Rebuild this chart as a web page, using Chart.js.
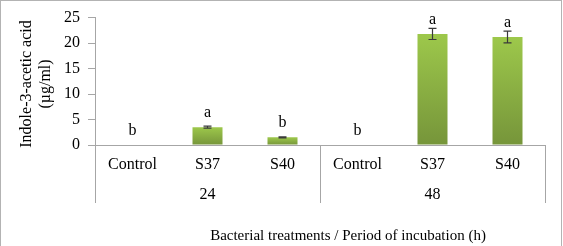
<!DOCTYPE html>
<html>
<head>
<meta charset="utf-8">
<script src="https://cdn.jsdelivr.net/npm/chart.js@4"></script>
<style>
  html, body { margin: 0; padding: 0; background: #fff; }
  #wrap { width: 563px; height: 246px; position: relative; }
</style>
</head>
<body>
<div id="wrap"><canvas id="chart" width="563" height="246"></canvas></div>
<script>
/* datos */
const categories = ["Control", "S37", "S40", "Control", "S37", "S40"];
const periods = ["24", "48"];
const iaa = [0, 3.5, 1.5, 0, 21.8, 21.2];
const iaaErr = [0, 0.2, 0.1, 0, 1.1, 1.15];
const letters = ["b", "a", "b", "b", "a", "a"];
const yTicks = [0, 5, 10, 15, 20, 25];

const FONT = "'Liberation Serif', 'Times New Roman', serif";
const AXIS_GRAY = "#a6a6a6";

/* gradiente por barra */
function barGradient(ctx) {
    const chart = ctx.chart;
    const ys = chart.scales.y;
    if (!ys || ctx.raw == null) return "#8db446";
    const top = ys.getPixelForValue(ctx.raw);
    const base = ys.getPixelForValue(0);
    if (!isFinite(top) || base - top < 1) return "#8db446";
    const g = chart.ctx.createLinearGradient(0, top, 0, base);
    g.addColorStop(0, "#9dc84b");
    g.addColorStop(1, "#76953a");
    return g;
}

/* barras de error + letras */
const errorBars = {
    id: "errorBars",
    afterDatasetsDraw(chart) {
        const ctx = chart.ctx;
        const ys = chart.scales.y;
        const meta = chart.getDatasetMeta(0);
        ctx.save();
        meta.data.forEach((bar, i) => {
            const x = bar.x;
            const err = iaaErr[i];
            if (err > 0) {
                const hi = ys.getPixelForValue(iaa[i] + err);
                const lo = ys.getPixelForValue(iaa[i] - err);
                ctx.strokeStyle = "#3a3a3a";
                ctx.lineWidth = 1.2;
                ctx.beginPath();
                ctx.moveTo(x, hi); ctx.lineTo(x, lo);
                ctx.moveTo(x - 4, hi); ctx.lineTo(x + 4, hi);
                ctx.moveTo(x - 4, lo); ctx.lineTo(x + 4, lo);
                ctx.stroke();
            }
            ctx.fillStyle = "#000";
            ctx.font = "16px " + FONT;
            ctx.textAlign = "center";
            ctx.textBaseline = "alphabetic";
            ctx.fillText(letters[i], x, ys.getPixelForValue(iaa[i]) - 10);
        });
        ctx.restore();
    }
};

/* eje x de dos niveles, títulos y marco */
const decor = {
    id: "decor",
    afterDraw(chart) {
        const ctx = chart.ctx;
        const xs = chart.scales.x;
        const area = chart.chartArea;
        const y0 = area.bottom;
        ctx.save();

        // separadores verticales
        ctx.strokeStyle = AXIS_GRAY;
        ctx.lineWidth = 1;
        const step = (area.right - area.left) / categories.length;
        const seps = [area.left, area.left + step * 3, area.right];
        ctx.beginPath();
        seps.forEach(sx => {
            const px = Math.round(sx) + 0.5;
            ctx.moveTo(px, y0);
            ctx.lineTo(px, y0 + 58);
        });
        ctx.stroke();

        ctx.fillStyle = "#000";
        ctx.font = "16px " + FONT;
        ctx.textAlign = "center";
        ctx.textBaseline = "middle";
        categories.forEach((c, i) => {
            ctx.fillText(c, xs.getPixelForValue(i), y0 + 20);
        });
        periods.forEach((p, g) => {
            ctx.fillText(p, xs.getPixelForValue(g * 3 + 1), y0 + 50);
        });

        // título eje y
        ctx.save();
        ctx.translate(36, 84);
        ctx.rotate(-Math.PI / 2);
        ctx.fillText("Indole-3-acetic acid", 0, -9);
        ctx.fillText("(\u00b5g/ml)", 0, 10);
        ctx.restore();

        // título eje x
        ctx.font = "15px " + FONT;
        ctx.fillText("Bacterial treatments / Period of incubation (h)", 348, 236);
        ctx.restore();

        // marco exterior
        ctx.save();
        ctx.strokeStyle = "#b3b3b3";
        ctx.lineWidth = 1;
        ctx.strokeRect(0.5, 0.5, 561, 260);
        ctx.restore();
    }
};

new Chart(document.getElementById("chart"), {
    type: "bar",
    data: {
        labels: categories,
        datasets: [{
            data: iaa,
            backgroundColor: barGradient,
            borderWidth: 0,
            categoryPercentage: 1,
            barPercentage: 0.4
        }]
    },
    options: {
        responsive: false,
        animation: false,
        devicePixelRatio: 1,
        layout: { padding: { top: 17, right: 18, left: 0, bottom: 0 } },
        plugins: { legend: { display: false }, tooltip: { enabled: false } },
        scales: {
            x: {
                ticks: { display: false },
                grid: { display: false },
                border: { display: true, color: AXIS_GRAY },
                afterFit: s => { s.height = 101; }
            },
            y: {
                min: 0,
                max: 25,
                afterBuildTicks: s => { s.ticks = yTicks.map(v => ({ value: v })); },
                ticks: { color: "#000", font: { family: FONT, size: 16 }, padding: 8 },
                grid: { drawOnChartArea: false, drawTicks: true, tickLength: 7, color: AXIS_GRAY },
                border: { display: true, color: AXIS_GRAY },
                afterFit: s => { s.width = 95; }
            }
        }
    },
    plugins: [errorBars, decor]
});
</script>
</body>
</html>
